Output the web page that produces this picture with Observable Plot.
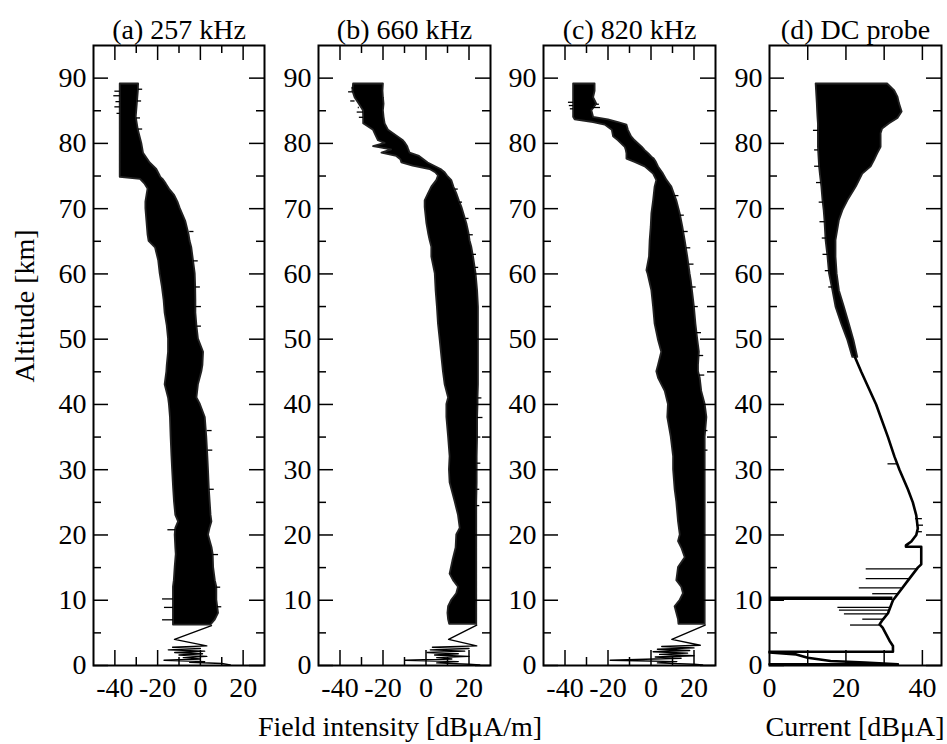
<!DOCTYPE html>
<html>
<head>
<meta charset="utf-8">
<script src="https://cdn.jsdelivr.net/npm/d3@7"></script>
<script src="https://cdn.jsdelivr.net/npm/@observablehq/plot@0.6"></script>
<style>
  body { margin: 0; background: white; }
  #wrap { position: relative; width: 947px; height: 744px; background: white; font-family: "Liberation Serif", "Times New Roman", serif; color: black; }
  .pan { position: absolute; top: 0; }
  .lbl { position: absolute; font-size: 28px; white-space: nowrap; }
</style>
</head>
<body>
<div id="wrap"></div>
<script>
// ---------- Panel titles & axis labels ----------
const titles = ["(a) 257 kHz", "(b) 660 kHz", "(c) 820 kHz", "(d) DC probe"];
const yLabel = "Altitude  [km]";
const xLabelField = "Field intensity [dBμA/m]";
const xLabelCurrent = "Current [dBμA]";

// ---------- Ticks ----------
const altMajor = [0, 10, 20, 30, 40, 50, 60, 70, 80, 90];
const altMinor = [5, 15, 25, 35, 45, 55, 65, 75, 85];
const fieldMajor = [-40, -20, 0, 20];
const fieldMinor = [-30, -10, 10];
const currentTicks = [10, 20, 30, 40];
const currentLabels = [0, 20, 40];

// ---------- (a) 257 kHz : band envelope ----------
const altA = [89.1, 88, 86, 84, 82, 80, 78.5, 77, 76, 75, 74.8, 74.5, 73.8, 73, 72, 71, 70, 68, 66, 65, 64, 62, 60, 58, 56, 54, 52, 50, 48, 46, 45, 43, 41, 40, 38, 35, 32, 30, 27, 25, 23, 22, 21, 20, 18, 17, 15, 13, 12, 10, 8, 7, 6.2];
const loA = [-37.5, -37.5, -37.5, -37.5, -37.5, -37.5, -37.5, -37.5, -37.5, -37.5, -37.5, -28, -26, -24.5, -25, -25.5, -25.5, -25, -24.5, -24, -21, -19.5, -18.8, -17.8, -17, -16.5, -15.5, -14.9, -14.9, -15.5, -15.7, -16.5, -14.9, -14.5, -14, -13.7, -13.3, -13, -12.5, -12.1, -11.5, -10.2, -11.5, -11.8, -11.5, -11.3, -11.8, -12.2, -12.6, -12.6, -12.6, -12.6, -12.6];
const hiA = [-28.9, -29, -29.5, -30, -29, -27.4, -26.6, -23.5, -20.4, -18.8, -18.5, -17.5, -16, -14.5, -12, -10.5, -9.4, -6.8, -5.3, -4.8, -4, -3.2, -2.4, -2.2, -2.1, -2.1, -1.6, -0.9, 1.5, 1.2, 0.7, -0.9, -1.6, 0, 2.3, 3.0, 3.5, 3.8, 4.2, 4.6, 5, 5.4, 4.5, 3.8, 5.5, 6, 6.2, 7, 7.7, 7.7, 8.5, 7, 5];
// (a) low-altitude trace
const lowAltA = [6.1, 4.0, 3.0, 2.8, 2.6, 2.4, 2.2, 2.0, 1.8, 1.6, 1.4, 1.2, 1.0, 0.8, 0.6, 0.5, 0.3, 0.1];
const lowValA = [5.2, -12.1, 3.0, -13, 0, -15, 2, -12, 1, -10, 3, -8, 0, -17, 2, -5, 10, 14];
// (a) spikes
const spkAltA = [88.0, 87.3, 86.4, 85.6, 84.6, 88.3, 86.5, 83.9, 82.2, 20.8, 10.2, 8.9, 7.0, 66.5, 62, 58, 55, 52, 36, 33, 27, 17, 12, 9];
const spkFromA = [-37.5, -37.5, -37.5, -37.5, -37.5, -29, -29.5, -30, -29, -11.5, -12.6, -12.6, -12.6, -5, -3.2, -2.2, -2.1, -1.6, 3.2, 3.6, 4.2, 6, 7.5, 8];
const spkToA = [-40, -40.5, -39.5, -40, -39, -27, -27.5, -28, -27, -15.2, -17.7, -16.8, -17.7, -3, -1, 0, 0.5, 0.5, 5.5, 5.8, 6.5, 8.5, 9.5, 10];

// ---------- (b) 660 kHz ----------
const altB = [89.1, 88, 87, 86, 85, 84, 83, 82, 81, 80.4, 80, 79.5, 79, 78.5, 78, 77.5, 77, 76.5, 76, 75.5, 75, 74.3, 73.3, 72.3, 71.2, 70.2, 67.7, 66.2, 65.1, 64.1, 62.6, 60, 57.4, 54.9, 52.3, 49.8, 47.2, 45, 43, 41, 40, 38, 35, 32, 30, 28, 25, 23, 21, 20, 18, 16, 14, 13, 12, 11, 10, 9, 8, 7, 6.3];
const loB = [-33.7, -34, -33, -31, -29.1, -29, -29, -24.4, -23, -22.1, -19, -24.4, -16, -20.5, -13.6, -11.7, -11.2, -6, 1.9, 4.5, 5.8, 5.0, 2.7, 1.2, -0.4, -0.4, 0.4, 1.2, 1.9, 2.7, 2.7, 4.3, 4.7, 5.3, 5.8, 6.6, 7.4, 8.1, 8.9, 10.5, 9.7, 9.7, 10.5, 11.2, 10.9, 11.2, 13.6, 15.1, 15.9, 14.3, 14.0, 12.5, 11.2, 12.8, 15.1, 14.3, 12.0, 10.5, 10.2, 10.5, 11];
const hiB = [-19.8, -20, -19.8, -19.5, -19.8, -19.5, -19, -17.4, -13, -10.5, -9.5, -8.5, -8, -7.4, -3, -1, 1, 4, 7, 8.9, 10, 12.0, 13, 14.3, 15.5, 16.7, 19.0, 20, 20.5, 21.3, 22.1, 23.3, 24.0, 24.4, 24.4, 24.4, 24.4, 24.4, 24.4, 24.2, 24.2, 24, 24, 23.8, 23.8, 23.8, 23.6, 23.6, 23.6, 23.6, 23.6, 23.6, 23.6, 23.6, 23.6, 23.6, 23.6, 23.6, 23.6, 23.6, 23.6];
const lowAltB = [6.2, 4.0, 3.0, 2.8, 2.6, 2.4, 2.2, 2.0, 1.8, 1.6, 1.4, 1.2, 1.0, 0.8, 0.6, 0.4, 0.2, 0.1];
const lowValB = [23.6, 10.5, 23.6, 3, 20, 2, 18, 0.5, 15, 4, 20, 5, 12, -9.7, 15, 5, 20, 25];
const spkAltB = [88.5, 87.9, 86.5, 85.5, 84.8, 84.0, 73, 71, 68.5, 66, 63, 61, 41, 38, 35, 31, 27, 24.5];
const spkFromB = [-33.7, -34, -33, -31, -29.1, -29, 13.5, 15.5, 18.5, 20, 21.8, 23, 24.2, 24, 24, 23.8, 23.7, 23.6];
const spkToB = [-34.5, -36, -35, -31.5, -32, -31, 15, 17, 20, 22, 23.5, 24.5, 26, 26.5, 25.5, 25.5, 25, 25];

// ---------- (c) 820 kHz ----------
const altC = [89.1, 88, 87, 86, 85, 84, 83.6, 83.2, 82.8, 82, 81, 80.4, 79.4, 78.9, 78.4, 77.9, 77.6, 77.1, 76.4, 75.3, 74.3, 73.3, 71.2, 69.2, 67.2, 65.1, 62.6, 60.5, 60, 59, 57.4, 54.9, 52.3, 49.8, 48, 46, 45, 44, 42, 40, 38, 35, 32, 30, 27, 25, 22, 20, 19, 18, 16.5, 15, 13, 12, 11, 10, 9, 8, 7, 6.3];
const loC = [-36, -36, -36, -36, -36, -36, -35.3, -26.7, -21.3, -18, -17.4, -15.1, -12, -11.5, -11.2, -11.2, -11.2, -7.4, -2.7, 1.2, 2.7, 1.9, 1.2, 0.4, 0.1, -0.4, -0.7, -1.9, -1.4, -0.7, 0.4, 1.2, 1.9, 3.5, 5.0, 3.5, 2.7, 3.5, 6.6, 8.1, 7.8, 9.4, 10.5, 10.5, 11.2, 12.0, 12.8, 13.6, 12.8, 14.3, 15.9, 12.8, 12.0, 14.3, 15.1, 13.6, 11.2, 12.0, 12.8, 13];
const hiC = [-26, -26, -26.7, -25.2, -27.5, -26.7, -19.8, -15.1, -11.2, -10.5, -9, -7.4, -4, -2.7, -1, 0.4, 1.5, 2.5, 3.5, 5.8, 7.5, 9.7, 12.0, 13.6, 14.8, 15.9, 17.1, 18, 18.2, 18.7, 19.3, 20.2, 20.9, 21.8, 22.5, 22.1, 22.1, 22.9, 23.6, 25.2, 26, 25.2, 25.2, 25.2, 25.2, 25.2, 25.2, 25.2, 25.2, 25.2, 25.2, 25.2, 25.2, 25.2, 25.2, 25.2, 25.2, 25.2, 25.2, 25.2];
const lowAltC = [6.2, 4.0, 3.1, 2.9, 2.7, 2.5, 2.3, 2.1, 1.9, 1.7, 1.5, 1.3, 1.1, 0.8, 0.6, 0.4, 0.2, 0.1];
const lowValC = [25.2, 9.7, 22.9, 5, 20, 3, 18, 1, 17, 4, 20, 2, 14, -19, 12, 3, 20, 24];
const spkAltC = [86.3, 85.8, 85.3, 86.0, 85.5, 72, 69, 66.5, 64, 61.5, 58, 55, 51, 47.5, 44.5, 36, 33];
const spkFromC = [-36, -36, -36, -25.2, -27.5, 11, 13.6, 15, 16.5, 17.7, 19, 20.2, 21.3, 22.3, 22.5, 25.2, 25.2];
const spkToC = [-38.4, -38, -37.5, -24, -23.5, 13, 15.5, 17.3, 18.5, 20, 21, 22, 23.5, 24.5, 25, 26.5, 26.5];

// ---------- (d) DC probe ----------
const altD = [89.1, 88.1, 87.1, 86.1, 84.8, 83.8, 83.0, 82.2, 81.5, 80.4, 79.4, 78.4, 77.4, 76.4, 75.3, 73.3, 71.2, 69.7, 68.2, 65.1, 62.6, 60, 57.4, 54.9, 52.3, 49.8, 47.2];
const loD = [12.2, 12.3, 12.4, 12.5, 12.6, 12.7, 12.8, 12.8, 12.8, 12.8, 12.8, 12.9, 13.0, 13.1, 13.3, 13.7, 14.0, 14.3, 14.5, 14.8, 15.3, 15.7, 16.6, 17.4, 18.9, 20.5, 21.8];
const hiD = [30.9, 32.7, 33.6, 34.0, 34.7, 33.6, 31.4, 29.6, 29.2, 29.2, 29.2, 28.3, 27.5, 26.6, 24.4, 22.7, 20.5, 19.2, 18.3, 17.4, 17.4, 17.7, 18.3, 19.6, 20.9, 22.1, 23.1];
const lineAltD = [47.2, 45, 40, 35, 32, 30, 27, 25, 23, 21, 20, 19, 18.4, 18.2, 18.2, 15.5, 15, 13, 11, 10, 8, 7, 6.3, 5.8, 3.8, 3.0, 2.1, 2.1, 2.0, 1.7, 1.2, 0.7, 0.45, 0.2, 0.2];
const lineValD = [22.4, 24.0, 27.9, 31.0, 32.7, 34.0, 36.2, 37.5, 38.4, 38.8, 38.4, 37.1, 35.7, 35.7, 39.7, 39.7, 38.8, 36.2, 33.6, 32.3, 31, 29.6, 28.8, 29.6, 31.4, 32.3, 32.3, 0, 0, 7, 10, 16, 25, 33.6, 0];
const spkAltD = [30.9, 14.8, 13.3, 11.9, 11.0, 8.9, 8.5, 7.9, 7.1, 6.2, 22.5, 21.5, 20.5, 82, 79, 76.5, 74, 71, 68, 65.5, 63, 60.5, 58];
const spkFromD = [33.5, 38.8, 36.9, 34.6, 33.6, 31.8, 31.5, 31.0, 29.9, 28.8, 38.2, 38.6, 38.6, 12.8, 12.8, 13.1, 13.6, 14.1, 14.6, 14.9, 15.3, 15.8, 16.5];
const spkToD = [31.0, 25.3, 25.3, 23.5, 27, 17.9, 18.3, 19.6, 24.4, 21.2, 40, 40.3, 40, 11.5, 11.8, 11.8, 12.3, 13, 13.2, 13.8, 14, 14.6, 15.5];
// (d) thick dropout line near 10 km
const dropAltD = [10.3];
const dropFromD = [0];
const dropToD = [32.3];

// ---------- build ----------
const FONT = "'Liberation Serif', 'Times New Roman', serif";
const FRAME_H = 620;

function panel(o) {
  const idx = d3.range(o.alt.length);
  const lowIdx = o.lowAlt ? d3.range(o.lowAlt.length) : [];
  const spk = d3.range(o.spkAlt.length);
  const frameW = o.width - o.ml - o.mr;
  const marks = [
    Plot.areaX(idx, {y: i => o.alt[i], x1: i => o.lo[i], x2: i => o.hi[i], fill: "black", stroke: "#222", strokeWidth: 1.8}),
    Plot.ruleY(spk, {y: i => o.spkAlt[i], x1: i => o.spkFrom[i], x2: i => o.spkTo[i], stroke: "black", strokeWidth: 1.3}),
  ];
  if (o.dropAlt) {
    marks.push(Plot.ruleY(d3.range(o.dropAlt.length), {y: i => o.dropAlt[i], x1: i => o.dropFrom[i], x2: i => o.dropTo[i], stroke: "black", strokeWidth: 3.5}));
  }
  if (o.lowAlt) marks.push(Plot.line(lowIdx, {x: i => o.lowVal[i], y: i => o.lowAlt[i], stroke: "black", strokeWidth: o.lowW || 1.4, curve: "linear"}));
  marks.push(
    // x ticks (inward) bottom & top
    Plot.ruleX(o.xMajor, {x: d => d, insetTop: FRAME_H - 15, strokeWidth: 1.5}),
    Plot.ruleX(o.xMajor, {x: d => d, insetBottom: FRAME_H - 15, strokeWidth: 1.5}),
    Plot.ruleX(o.xMinor, {x: d => d, insetTop: FRAME_H - 8, strokeWidth: 1.5}),
    Plot.ruleX(o.xMinor, {x: d => d, insetBottom: FRAME_H - 8, strokeWidth: 1.5}),
    // y ticks (inward) left & right
    Plot.ruleY(altMajor, {y: d => d, insetRight: frameW - 15, strokeWidth: 1.5}),
    Plot.ruleY(altMajor, {y: d => d, insetLeft: frameW - 15, strokeWidth: 1.5}),
    Plot.ruleY(altMinor, {y: d => d, insetRight: frameW - 8, strokeWidth: 1.5}),
    Plot.ruleY(altMinor, {y: d => d, insetLeft: frameW - 8, strokeWidth: 1.5}),
    Plot.axisX(o.xLabels, {anchor: "bottom", tickSize: 0, tickPadding: 12, tickFormat: d => String(d), fontSize: 28}),
    Plot.axisY(altMajor, {anchor: "left", tickSize: 0, tickPadding: 7, tickFormat: d => String(d), fontSize: 28}),
    Plot.frame({stroke: "black", strokeWidth: 2}),
    Plot.text([o.title], {frameAnchor: "top", dy: -26, fontSize: 28, textAnchor: "middle"})
  );
  const svg = Plot.plot({
    width: o.width, height: 744,
    marginTop: 45, marginBottom: 79, marginLeft: o.ml, marginRight: o.mr,
    x: {domain: o.xdomain, axis: null},
    y: {domain: [0, 95], axis: null},
    style: {fontFamily: FONT, fontSize: "28px", background: "transparent", color: "black", overflow: "visible"},
    marks
  });
  svg.classList.add("pan");
  svg.style.left = o.left + "px";
  return svg;
}

const wrap = document.getElementById("wrap");
const common = {xMajor: fieldMajor, xMinor: fieldMinor, xLabels: fieldMajor, xdomain: [-50, 30]};
wrap.appendChild(panel({...common, left: 0, width: 272, ml: 93, mr: 8, title: titles[0],
  alt: altA, lo: loA, hi: hiA, lowAlt: lowAltA, lowVal: lowValA, spkAlt: spkAltA, spkFrom: spkFromA, spkTo: spkToA}));
wrap.appendChild(panel({...common, left: 272, width: 225, ml: 46, mr: 7, title: titles[1],
  alt: altB, lo: loB, hi: hiB, lowAlt: lowAltB, lowVal: lowValB, spkAlt: spkAltB, spkFrom: spkFromB, spkTo: spkToB}));
wrap.appendChild(panel({...common, left: 497, width: 225, ml: 46, mr: 7, title: titles[2],
  alt: altC, lo: loC, hi: hiC, lowAlt: lowAltC, lowVal: lowValC, spkAlt: spkAltC, spkFrom: spkFromC, spkTo: spkToC}));
wrap.appendChild(panel({left: 722, width: 225, ml: 47, mr: 6, title: titles[3],
  xMajor: currentTicks, xMinor: [], xLabels: currentLabels, xdomain: [0, 45],
  alt: altD, lo: loD, hi: hiD, lowAlt: lineAltD, lowVal: lineValD, lowW: 2.6, spkAlt: spkAltD, spkFrom: spkFromD, spkTo: spkToD,
  dropAlt: dropAltD, dropFrom: dropFromD, dropTo: dropToD}));

function addLabel(text, css) {
  const d = document.createElement("div");
  d.className = "lbl";
  d.textContent = text;
  Object.assign(d.style, css);
  wrap.appendChild(d);
  return d;
}
addLabel(xLabelField, {left: "400px", top: "727px", transform: "translate(-50%, -50%)"});
addLabel(xLabelCurrent, {left: "855px", top: "727px", transform: "translate(-50%, -50%)"});
addLabel(yLabel, {left: "25px", top: "306px", transform: "translate(-50%, -50%) rotate(-90deg)"});
</script>
</body>
</html>
